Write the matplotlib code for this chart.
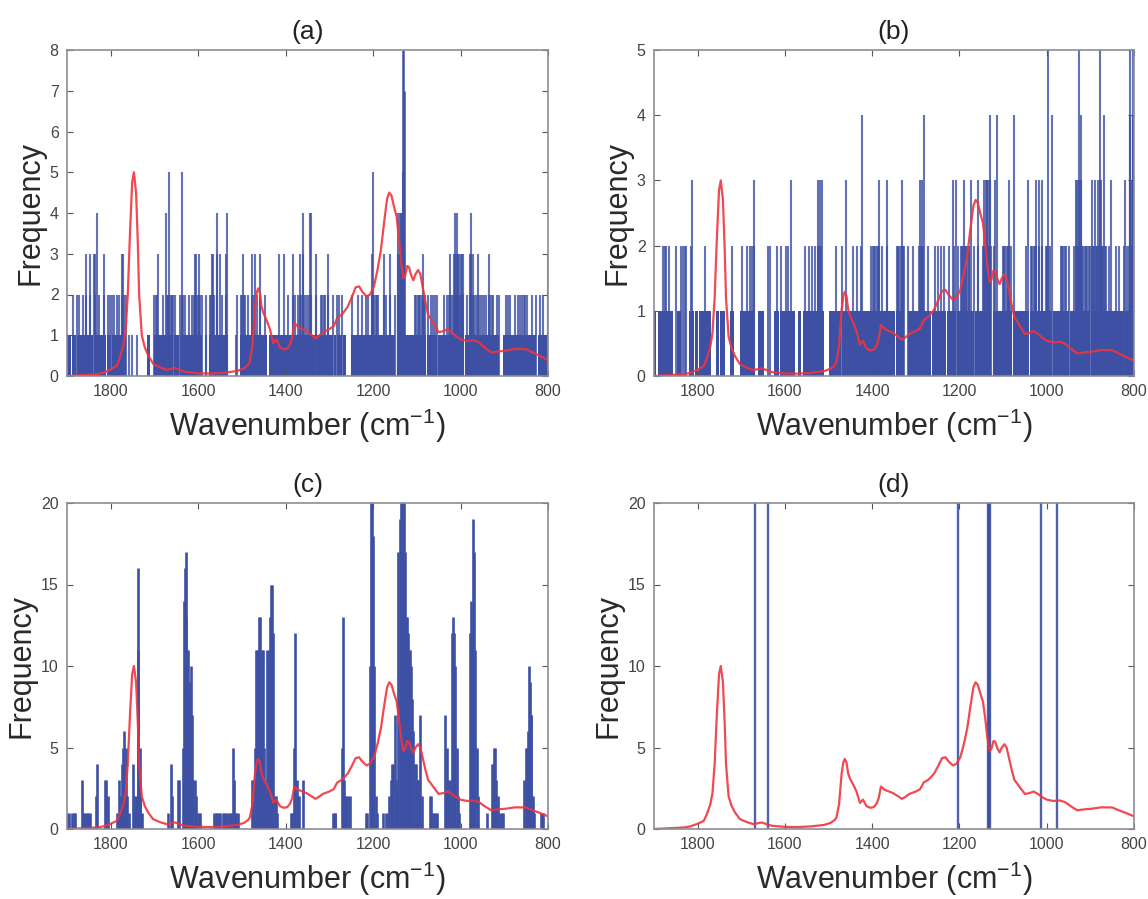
import matplotlib
matplotlib.use("Agg")
import matplotlib.pyplot as plt

plt.rcParams['font.family'] = ['Liberation Sans', 'DejaVu Sans']
plt.rcParams['mathtext.fontset'] = 'custom'
plt.rcParams['mathtext.rm'] = 'Liberation Sans'
plt.rcParams['mathtext.default'] = 'rm'

# Red spectrum (d) and rescaled in the other panels
spec_wn = [1900, 1860, 1830, 1817, 1802, 1786, 1779, 1771, 1766, 1761, 1756, 1751, 1747, 1742, 1738, 1735, 1729,
           1722, 1714, 1703, 1687, 1672, 1660, 1653, 1640, 1630, 1600, 1570, 1540, 1510, 1495, 1486, 1482,
           1476, 1470, 1466, 1463, 1459, 1455, 1451, 1447, 1441, 1436, 1428, 1421, 1413, 1404, 1396,
           1390, 1385, 1380, 1375, 1371, 1352, 1340, 1332, 1325, 1315, 1300, 1290, 1282, 1270, 1258, 1248,
           1240, 1232, 1225, 1215, 1207, 1198, 1190, 1182, 1175, 1168, 1163, 1158, 1152, 1146, 1141, 1136,
           1131, 1127, 1122, 1118, 1113, 1108, 1103, 1097, 1092, 1086, 1080, 1074, 1068, 1060, 1050, 1040,
           1030, 1020, 1010, 1000, 985, 970, 958, 945, 930, 915, 895, 875, 850, 835, 820, 800]
spec_val = [0.0, 0.05, 0.1, 0.16, 0.3, 0.5, 0.9, 1.5, 2.2, 4.0, 7.0, 9.5, 10.0, 9.0, 6.5, 4.0, 2.0,
            1.4, 1.0, 0.6, 0.42, 0.3, 0.36, 0.4, 0.28, 0.2, 0.13, 0.12, 0.16, 0.25, 0.38, 0.55, 0.7,
            1.5, 3.4, 4.1, 4.3, 4.1, 3.4, 3.1, 2.9, 2.6, 2.3, 1.6, 1.8, 1.4, 1.3, 1.35,
            1.55, 1.9, 2.6, 2.5, 2.4, 2.2, 2.0, 1.85, 1.95, 2.15, 2.3, 2.45, 2.85, 3.05, 3.4, 3.9,
            4.35, 4.4, 4.15, 3.9, 4.0, 4.4, 5.2, 6.2, 7.5, 8.7, 9.0, 8.85, 8.3, 7.8, 6.8, 5.6,
            4.8, 4.9, 5.4, 5.35, 4.95, 4.7, 5.0, 5.2, 5.0, 4.3, 3.6, 3.0, 2.8, 2.5, 2.15, 2.2,
            2.3, 2.15, 1.95, 1.8, 1.72, 1.75, 1.65, 1.4, 1.15, 1.2, 1.25, 1.33, 1.32, 1.15, 1.0, 0.78]

# Panel (a): bands at frequency 1 (high, low wavenumber), then lines per frequency
a_bands = [(1900, 1891), (1889, 1880), (1878, 1869), (1867, 1840), (1837, 1811), (1808, 1800), (1798, 1764),
           (1716, 1710), (1700, 1658), (1656, 1644), (1642, 1592), (1575, 1531), (1504, 1442), (1437, 1333),
           (1331, 1291), (1289, 1285), (1283, 1272), (1269, 1262), (1251, 1150), (1146, 1078), (1076, 1054),
           (1052, 1006), (1004, 991), (989, 913), (904, 828), (824, 800)]
a_one = [1758, 1751, 1741, 1583, 1514]
a_two = [1887, 1876, 1873, 1864, 1857, 1847, 1837, 1826, 1815, 1806, 1802, 1796, 1792, 1786, 1780, 1774, 1769,
         1764, 1700, 1697, 1695, 1680, 1672, 1669, 1666, 1663, 1660, 1657, 1654, 1642, 1638, 1634, 1630, 1621,
         1613, 1610, 1607, 1604, 1601, 1598, 1595, 1592, 1583, 1573, 1571, 1567, 1564, 1558, 1546, 1537, 1512,
         1503, 1499, 1495, 1492, 1485, 1478, 1472, 1466, 1459, 1447, 1394, 1383, 1379, 1371, 1367, 1364, 1361,
         1357, 1354, 1348, 1344, 1341, 1330, 1320, 1317, 1313, 1310, 1302, 1292, 1283, 1277, 1270, 1249, 1234,
         1226, 1217, 1211, 1203, 1200, 1197, 1194, 1191, 1188, 1176, 1170, 1161, 1150, 1144, 1141, 1138, 1135,
         1132, 1129, 1104, 1101, 1098, 1095, 1092, 1089, 1086, 1083, 1081, 1074, 1068, 1064, 1058, 1053, 1038,
         1030, 1027, 1024, 1021, 1018, 1015, 1012, 1009, 1006, 1003, 1000, 997, 994, 986, 978, 975, 972, 969,
         964, 959, 955, 950, 946, 942, 936, 932, 928, 925, 917, 912, 895, 891, 887, 875, 868, 864, 860, 856,
         852, 849, 836, 828, 818, 812, 801]
a_three = [1857, 1847, 1838, 1835, 1815, 1774, 1771, 1691, 1607, 1605, 1599, 1569, 1565, 1558, 1549, 1537,
           1497, 1478, 1470, 1459, 1415, 1403, 1384, 1367, 1361, 1330, 1302, 1203, 1176, 1161, 1142, 1139,
           1136, 1133, 1130, 1085, 1024, 1015, 1012, 1009, 1006, 1003, 1000, 997, 995, 978, 975, 972, 959, 936, 801]
a_four = [1832, 1674, 1558, 1535, 1361, 1344, 1341, 1142, 1139, 1136, 1133, 1130, 1013, 1009, 975]
a_five = [1667, 1636, 1201, 1132, 1130]
a_high_wn = [1132, 1130]
a_high_count = [8, 7]

# Panel (b)
b_bands = [(1900, 1895), (1891, 1885), (1883, 1857), (1847, 1837), (1819, 1808), (1806, 1800), (1798, 1769),
           (1759, 1750), (1748, 1737), (1725, 1717), (1704, 1670), (1661, 1649), (1626, 1614), (1612, 1578),
           (1569, 1563), (1559, 1510), (1498, 1471), (1469, 1347), (1345, 1326), (1317, 1266), (1264, 1231),
           (1229, 1208), (1206, 1193), (1191, 1166), (1164, 1127), (1123, 1079), (1077, 1041), (1039, 1021),
           (1019, 987), (985, 949), (947, 900), (898, 881), (879, 823), (821, 800)]
b_one = [1358]
b_two = [1879, 1875, 1872, 1866, 1849, 1838, 1834, 1830, 1826, 1815, 1784, 1721, 1698, 1687, 1681, 1675, 1671,
         1638, 1634, 1619, 1609, 1597, 1594, 1553, 1544, 1537, 1530, 1525, 1521, 1517, 1483, 1469, 1444, 1434,
         1426, 1402, 1399, 1396, 1393, 1390, 1387, 1384, 1378, 1367, 1344, 1341, 1338, 1335, 1332, 1329, 1326,
         1317, 1307, 1292, 1289, 1286, 1284, 1273, 1257, 1250, 1242, 1235, 1223, 1212, 1204, 1197, 1194, 1191,
         1188, 1185, 1182, 1179, 1177, 1166, 1158, 1147, 1144, 1141, 1138, 1135, 1132, 1128, 1120, 1101, 1098,
         1095, 1092, 1089, 1086, 1082, 1048, 1036, 1033, 1030, 1027, 1025, 1017, 1010, 1002, 999, 996, 993, 968,
         965, 962, 959, 956, 949, 937, 934, 931, 928, 925, 922, 919, 916, 913, 910, 907, 903, 900, 897, 894, 891,
         888, 885, 882, 879, 876, 873, 870, 867, 865, 857, 842, 835, 822, 815, 812, 809, 806, 803, 800]
b_three = [1814, 1671, 1587, 1525, 1520, 1515, 1460, 1384, 1365, 1332, 1290, 1286, 1215, 1208, 1189, 1173, 1158,
           1143, 1140, 1137, 1134, 1131, 1118, 1087, 1044, 1024, 1018, 1011, 934, 930, 926, 921, 896, 890, 883,
           879, 875, 852, 821, 810, 806, 802]
b_four = [1424, 1282, 1130, 1115, 1074, 988, 921, 868, 810, 802]
b_five = [997, 927, 879, 810, 802]

# Panel (c): every line has its own count
c_wn = [1899, 1896, 1888, 1885, 1882, 1866, 1861, 1858, 1855, 1851, 1848, 1832, 1833, 1812, 1810, 1807, 1785, 1782,
        1780, 1777, 1774, 1771, 1769, 1766, 1764, 1762, 1759, 1749, 1747, 1745, 1743, 1741, 1738, 1737, 1734, 1732,
        1729, 1670, 1663, 1660, 1646, 1644, 1634, 1632, 1631, 1629, 1628, 1626, 1623, 1621, 1618, 1616, 1613,
        1611, 1608, 1605, 1602, 1599, 1596, 1563, 1560, 1556, 1552, 1549, 1544, 1540, 1536, 1532, 1528, 1524, 1521,
        1519, 1516, 1513, 1510, 1478, 1475, 1471, 1468, 1466, 1464, 1462, 1460, 1458, 1456, 1454, 1452, 1450, 1447,
        1445, 1442, 1439, 1437, 1435, 1433, 1431, 1428, 1425, 1422, 1419, 1387, 1385, 1382, 1381, 1378, 1375, 1372,
        1370, 1361, 1291, 1288, 1286, 1271, 1269, 1267, 1264, 1261, 1258, 1252, 1217, 1213, 1207, 1205, 1202, 1200,
        1197, 1194, 1192, 1177, 1171, 1167, 1163, 1159, 1156, 1154, 1151, 1148, 1146, 1144, 1142, 1139, 1136, 1134,
        1132, 1129, 1127, 1125, 1123, 1121, 1118, 1116, 1114, 1111, 1108, 1105, 1102, 1099, 1097, 1094, 1092, 1089,
        1070, 1067, 1064, 1060, 1057, 1053, 1035, 1033, 1031, 1028, 1026, 1023, 1020, 1018, 1015, 1012, 1009, 1006,
        1003, 979, 977, 974, 972, 969, 966, 963, 960, 940, 928, 925, 923, 921, 918, 915, 909, 906, 903, 854, 851, 848,
        846, 844, 842, 840, 838, 835, 832, 817, 814, 811]
c_count = [1, 1, 1, 1, 1, 3, 1, 1, 1, 1, 1, 4, 2, 3, 3, 2, 1, 1,
           3, 2, 4, 5, 6, 5, 2, 2, 1, 4, 2, 1, 2, 1, 16, 11, 5, 2,
           1, 1, 4, 2, 3, 3, 5, 14, 16, 17, 13, 11, 11, 9, 8, 10, 7,
           3, 3, 2, 1, 1, 1, 1, 1, 1, 1, 1, 1, 1, 1, 1, 1, 1, 5,
           3, 1, 1, 1, 3, 3, 5, 11, 11, 11, 11, 13, 13, 6, 11, 11, 5, 3,
           2, 11, 11, 10, 13, 15, 15, 12, 2, 2, 1, 1, 1, 1, 5, 12, 3, 2,
           2, 3, 1, 1, 1, 5, 13, 3, 2, 2, 2, 2, 1, 1, 10, 20, 20, 18,
           10, 2, 1, 1, 1, 1, 2, 3, 4, 4, 7, 3, 2, 2, 17, 19, 20, 20,
           20, 20, 17, 13, 13, 12, 11, 11, 10, 8, 6, 4, 4, 3, 3, 3, 7, 2,
           2, 2, 1, 1, 1, 1, 7, 2, 5, 3, 2, 3, 12, 13, 12, 10, 5, 2,
           1, 12, 14, 12, 19, 17, 11, 5, 2, 1, 4, 4, 5, 5, 3, 2, 1, 1, 1, 3, 5, 5,
           6, 10, 9, 7, 7, 2, 1, 1, 1, 1]

# Panel (d)
d_wn = [1669, 1639, 1204, 1135, 1132, 1130, 1013, 976]
d_count = [20, 20, 20, 20, 20, 20, 20, 20]

x_ticks = [1800, 1600, 1400, 1200, 1000, 800]
panel_titles = ['(a)', '(b)', '(c)', '(d)']
y_limits = [8, 5, 20, 20]
y_steps = [range(0, 9), range(0, 6), range(0, 21, 5), range(0, 21, 5)]
spec_scale = [0.5, 0.3, 1.0, 1.0]

BLUE = '#3d50a4'
RED = '#f0343f'
W, H = 1148, 899
boxes = [(67, 50, 481, 326), (654, 50, 480, 326), (67, 503, 481, 326), (654, 503, 480, 326)]

fig = plt.figure(figsize=(W / 100, H / 100), dpi=100)
axes = []
for (x, y, w, h) in boxes:
    axes.append(fig.add_axes([x / W, 1 - (y + h) / H, w / W, h / H]))


def draw_bands(ax, bands):
    for hi, lo in bands:
        ax.bar(lo, 1, width=hi - lo, align='edge', color=BLUE, linewidth=0)


# spikes
axes[0].vlines(a_one, 0, 1, color=BLUE, lw=1.5, alpha=0.8)
for level, pos in [(2, a_two), (3, a_three), (4, a_four), (5, a_five)]:
    axes[0].vlines(pos, 0, level, color=BLUE, lw=1.5, alpha=0.8)
axes[0].vlines(a_high_wn, 0, a_high_count, color=BLUE, lw=1.8)
draw_bands(axes[0], a_bands)

axes[1].vlines(b_one, 0, 1, color=BLUE, lw=1.5, alpha=0.8)
for level, pos in [(2, b_two), (3, b_three), (4, b_four), (5, b_five)]:
    axes[1].vlines(pos, 0, level, color=BLUE, lw=1.5, alpha=0.8)
draw_bands(axes[1], b_bands)

axes[2].vlines(c_wn, 0, c_count, color=BLUE, lw=1.9)
axes[3].vlines(d_wn, 0, d_count, color=BLUE, lw=1.7, alpha=0.9)

for i, ax in enumerate(axes):
    ax.plot(spec_wn, [v * spec_scale[i] for v in spec_val], color=RED, lw=1.6, alpha=0.9)
    ax.set_xlim(1900, 800)
    ax.set_ylim(0, y_limits[i])
    ax.set_xticks(x_ticks)
    ax.set_yticks(list(y_steps[i]))
    ax.tick_params(direction='in', top=True, right=True, length=4, width=0.8, color='#555555',
                   labelsize=11.5, labelcolor='#444444', pad=6)
    for s in ax.spines.values():
        s.set_color('#8c8c96')
        s.set_linewidth(1.2)
    ax.set_title(panel_titles[i], fontsize=19, color='#222222', pad=8)
    ax.set_xlabel('Wavenumber (cm$^{-1}$)', fontsize=22, color='#2a2a2a', labelpad=5.5)
    ax.set_ylabel('Frequency', fontsize=22, color='#2a2a2a', labelpad=3)

fig.savefig('out.png', dpi=100)
